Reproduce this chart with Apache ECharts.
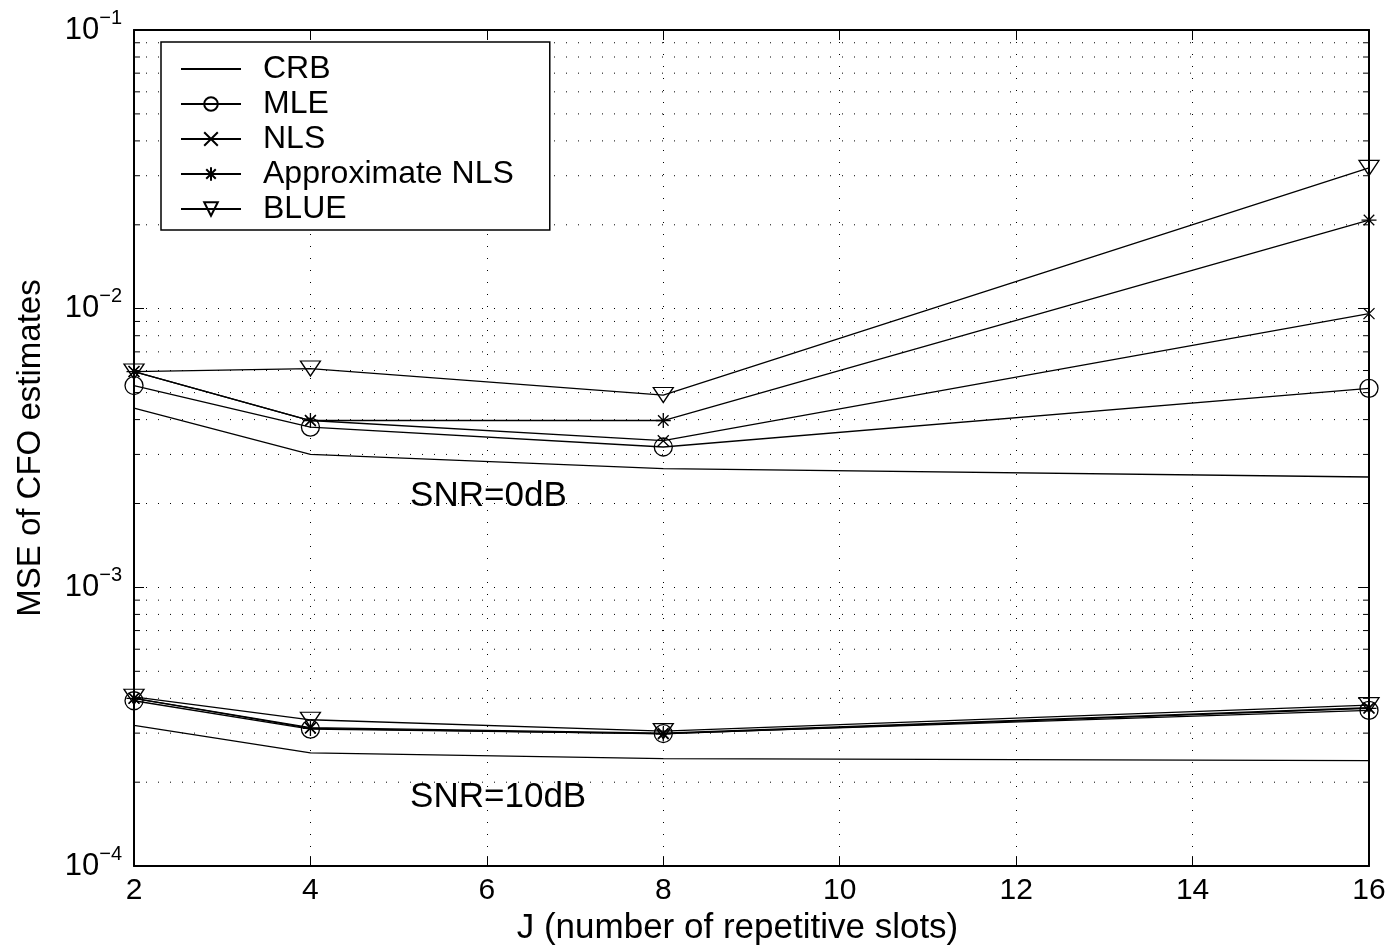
<!DOCTYPE html>
<html>
<head>
<meta charset="utf-8">
<title>MSE of CFO estimates vs J</title>
<script src="https://cdn.jsdelivr.net/npm/echarts@6/dist/echarts.min.js"></script>
<style>
  html, body { margin: 0; padding: 0; background: #fff; }
  #chart { width: 1394px; height: 951px; }
</style>
</head>
<body>
<div id="chart"></div>
<script>
// Number of repetitive slots J
const slots = [2, 4, 8, 16];

// SNR = 0 dB
const crb0  = [4.4e-3, 3.0e-3, 2.67e-3, 2.49e-3];
const mle0  = [5.3e-3, 3.76e-3, 3.19e-3, 5.18e-3];
const nls0  = [5.95e-3, 3.97e-3, 3.36e-3, 9.6e-3];
const anls0 = [5.95e-3, 3.97e-3, 3.97e-3, 2.08e-2];
const blue0 = [5.95e-3, 6.1e-3, 4.9e-3, 3.2e-2];

// SNR = 10 dB
const crb10  = [3.2e-4, 2.55e-4, 2.43e-4, 2.39e-4];
const mle10  = [3.92e-4, 3.1e-4, 2.99e-4, 3.62e-4];
const nls10  = [4.0e-4, 3.14e-4, 3.0e-4, 3.7e-4];
const anls10 = [4.0e-4, 3.12e-4, 2.98e-4, 3.68e-4];
const blue10 = [4.05e-4, 3.35e-4, 3.05e-4, 3.78e-4];

const legendNames = ['CRB', 'MLE', 'NLS', 'Approximate NLS', 'BLUE'];

// minor decade ticks 2..9 x 10^k
const minorValues = [];
[1e-4, 1e-3, 1e-2].forEach(d => { for (let m = 2; m <= 9; m++) minorValues.push(m * d); });

const FONT = '"Liberation Sans", Arial, Helvetica, sans-serif';
const BLACK = '#000';
const CLEAR = 'rgba(0,0,0,0)';
const DOTS = [1, 11];

const markers = {
  'CRB': { symbol: 'circle', size: 0, hidden: true },
  'MLE': { symbol: 'circle', size: 18 },
  'NLS': { symbol: 'path://M0,0L10,10M10,0L0,10', size: 11 },
  'Approximate NLS': { symbol: 'path://M5,0L5,10M0,5L10,5M1.5,1.5L8.5,8.5M8.5,1.5L1.5,8.5', size: 15 },
  'BLUE': { symbol: 'triangle', size: [20, 15], rotate: 180 }
};

function lineSeries(name, values, extra) {
  const mk = markers[name];
  return Object.assign({
    type: 'line',
    name: name,
    data: slots.map((x, i) => [x, values[i]]),
    symbol: mk.symbol,
    symbolSize: mk.size,
    symbolRotate: mk.rotate || 0,
    showSymbol: !mk.hidden,
    lineStyle: { color: BLACK, width: 1.3 },
    itemStyle: { color: CLEAR, borderColor: BLACK, borderWidth: 1.3 },
    emphasis: { disabled: true },
    animation: false,
    z: 3
  }, extra || {});
}

function snrLabel(text, x, y) {
  return {
    symbol: 'circle',
    symbolSize: 0,
    silent: true,
    label: { show: true, position: 'right', distance: 0, formatter: '{b}', fontSize: 35, color: BLACK, fontFamily: FONT },
    data: [{ name: text, coord: [x, y] }]
  };
}

const axisLine = { show: true, onZero: false, lineStyle: { color: BLACK, width: 2 } };
const axisTick = { show: true, inside: true, length: 10, lineStyle: { color: BLACK, width: 1 } };

const chart = echarts.init(document.getElementById('chart'), null, { renderer: 'canvas' });

chart.setOption({
  backgroundColor: '#fff',
  animation: false,
  textStyle: { fontFamily: FONT, color: BLACK },
  grid: { left: 134, right: 25, top: 30, bottom: 82, containLabel: false },
  legend: {
    // the CRB entry is a plain line, so its marker is made invisible
    data: legendNames.map(n => n === 'CRB'
      ? { name: n, itemStyle: { color: CLEAR, borderColor: CLEAR, borderWidth: 0 } }
      : { name: n }),
    orient: 'vertical',
    left: 161,
    top: 42,
    padding: [11, 36, 5, 19],
    itemWidth: 60,
    itemHeight: 17,
    itemGap: 3,
    selectedMode: false,
    backgroundColor: '#fff',
    borderColor: BLACK,
    borderWidth: 1.5,
    borderRadius: 0,
    symbolRotate: 'inherit',
    textStyle: { fontSize: 32, lineHeight: 32, color: BLACK, fontFamily: FONT, padding: [0, 0, 0, 17] },
    z: 10
  },
  xAxis: [
    {
      type: 'value',
      position: 'bottom',
      min: 2, max: 16, interval: 2,
      axisLine: axisLine,
      axisTick: axisTick,
      axisLabel: { fontSize: 30, color: BLACK, margin: 10, fontFamily: FONT },
      splitLine: { show: true, lineStyle: { color: BLACK, width: 1, type: DOTS } },
      name: 'J (number of repetitive slots)',
      nameLocation: 'middle',
      nameGap: 36,
      nameTextStyle: { fontSize: 35, color: BLACK, fontFamily: FONT, padding: [0, 28, 0, 0] }
    },
    {
      type: 'value',
      position: 'top',
      min: 2, max: 16, interval: 2,
      axisLine: axisLine,
      axisTick: axisTick,
      axisLabel: { show: false },
      splitLine: { show: false }
    }
  ],
  yAxis: [
    {
      type: 'log',
      logBase: 10,
      position: 'left',
      min: 1e-4, max: 1e-1,
      splitNumber: 3,
      axisLine: axisLine,
      axisTick: axisTick,
      axisLabel: {
        margin: 12,
        color: BLACK,
        formatter: v => '{b|10}{s|\u2212' + Math.abs(Math.round(Math.log10(v))) + '}',
        rich: {
          b: { fontSize: 31, fontFamily: FONT, color: BLACK },
          s: { fontSize: 20, fontFamily: FONT, color: BLACK, padding: [0, 0, 24, 0] }
        }
      },
      splitLine: { show: true, lineStyle: { color: BLACK, width: 1, type: DOTS } },
      name: 'MSE of CFO estimates',
      nameLocation: 'middle',
      nameGap: 87,
      nameRotate: 90,
      nameTextStyle: { fontSize: 33, color: BLACK, fontFamily: FONT }
    },
    {
      type: 'log',
      logBase: 10,
      position: 'right',
      min: 1e-4, max: 1e-1,
      splitNumber: 3,
      axisLine: axisLine,
      axisTick: axisTick,
      axisLabel: { show: false },
      splitLine: { show: false }
    }
  ],
  series: [
    // minor grid lines and minor ticks of the log axis
    {
      type: 'custom',
      name: 'minor',
      silent: true,
      z: 1,
      data: minorValues.map(v => [2, v]),
      encode: { x: 0, y: 1 },
      renderItem: function (params, api) {
        const cs = params.coordSys;
        const y = api.coord([api.value(0), api.value(1)])[1];
        const l = cs.x, r = cs.x + cs.width;
        return {
          type: 'group',
          children: [
            { type: 'line', shape: { x1: l, y1: y, x2: r, y2: y }, style: { stroke: BLACK, lineWidth: 1, lineDash: DOTS } },
            { type: 'line', shape: { x1: l, y1: y, x2: l + 6, y2: y }, style: { stroke: BLACK, lineWidth: 1 } },
            { type: 'line', shape: { x1: r - 6, y1: y, x2: r, y2: y }, style: { stroke: BLACK, lineWidth: 1 } }
          ]
        };
      }
    },
    lineSeries('CRB', crb0, { markPoint: snrLabel('SNR=0dB', 5.13, 2.13e-3) }),
    lineSeries('MLE', mle0),
    lineSeries('NLS', nls0),
    lineSeries('Approximate NLS', anls0),
    lineSeries('BLUE', blue0),
    lineSeries('CRB', crb10, { markPoint: snrLabel('SNR=10dB', 5.13, 1.76e-4) }),
    lineSeries('MLE', mle10),
    lineSeries('NLS', nls10),
    lineSeries('Approximate NLS', anls10),
    lineSeries('BLUE', blue10)
  ]
});
</script>
</body>
</html>
